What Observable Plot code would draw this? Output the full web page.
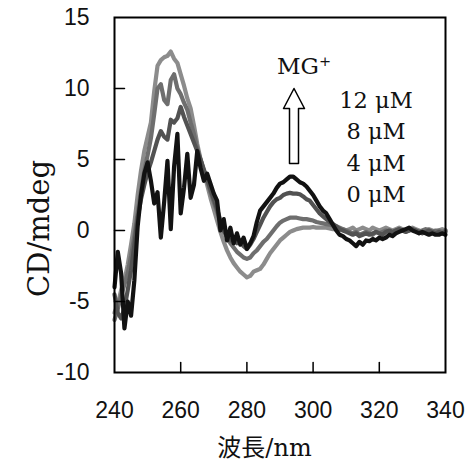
<!DOCTYPE html>
<html>
<head>
<meta charset="utf-8">
<script src="https://cdn.jsdelivr.net/npm/d3@7"></script>
<script src="https://cdn.jsdelivr.net/npm/@observablehq/plot@0.6"></script>
<style>
  html, body { margin: 0; padding: 0; background: #fff; }
  #chart svg { display: block; }
</style>
</head>
<body>
<div id="chart"></div>
<script>
// ---- data ----
const wavelength = d3.range(240, 341, 1);

const seriesNames = ["0 μM", "4 μM", "8 μM", "12 μM"];

const cd0 = [
  -5.8, -5.2, -4.2, -3.5, -2.4, -1.0, 0.5, 2.5, 4.2, 5.6,
  6.6, 7.6, 9.8, 11.6, 12.0, 12.2, 12.3, 12.6, 12.1, 11.8,
  11.0, 10.2, 9.3, 8.6, 7.4, 6.1, 5.0, 4.1, 3.2, 2.3,
  1.5, 0.7, -0.1, -0.8, -1.4, -1.9, -2.3, -2.6, -2.9, -3.1,
  -3.3, -3.2, -2.9, -2.8, -2.7, -2.4, -2.0, -1.6, -1.3, -1.0,
  -0.7, -0.5, -0.3, -0.1, 0.0, 0.1, 0.15, 0.2, 0.2, 0.2,
  0.25, 0.2, 0.2, 0.2, 0.2, 0.15, 0.1, 0.1, 0.05, 0.1,
  0.0, 0.1, 0.2, 0.0, 0.1, 0.2, 0.1, 0.0, 0.2, 0.1,
  0.0, 0.1, 0.2, 0.1, 0.0, 0.1, 0.2, 0.1, 0.0, 0.1,
  0.2, 0.1, 0.0, -0.1, 0.0, 0.1, 0.0, -0.1, 0.0, 0.1, 0.0
];

const cd4 = [
  -6.3, -5.5, -4.6, -3.8, -3.0, -1.8, -0.4, 1.2, 2.8, 4.2,
  5.3, 6.5, 8.2, 10.0, 10.3, 9.2, 8.9, 10.6, 11.0, 10.0,
  9.6, 9.0, 8.5, 7.6, 6.8, 5.8, 5.0, 4.2, 3.5, 2.7,
  2.0, 1.3, 0.6, 0.0, -0.5, -0.9, -1.2, -1.5, -1.7, -1.9,
  -2.0, -1.9, -1.6, -1.4, -1.1, -0.8, -0.6, -0.3, 0.0, 0.3,
  0.55, 0.7, 0.8, 0.9, 0.9, 0.9, 0.85, 0.8, 0.8, 0.75,
  0.7, 0.6, 0.55, 0.5, 0.45, 0.4, 0.35, 0.3, 0.2, 0.1,
  0.0, -0.1, -0.2, -0.1, -0.3, -0.2, -0.1, -0.2, -0.3, -0.1,
  -0.2, -0.1, 0.0, -0.1, -0.2, 0.0, 0.1, 0.0, -0.1, 0.0,
  0.1, 0.0, -0.1, 0.0, 0.1, 0.0, -0.1, 0.0, 0.0, -0.1, 0.0
];

const cd8 = [
  -4.5, -5.8, -6.2, -5.5, -4.2, -2.8, -1.0, 0.9, 2.2, 3.2,
  4.1, 4.8, 5.6, 6.4, 7.0, 6.6, 6.4, 7.8, 7.6, 7.9,
  8.7, 8.0, 7.4, 6.8, 6.2, 5.6, 5.0, 4.3, 3.6, 2.9,
  2.2, 1.5, 0.7, 0.0, -0.4, -0.7, -0.5, -0.9, -0.7, -1.1,
  -1.3, -1.0, -0.6, -0.1, 0.4, 0.9, 1.3, 1.7, 2.0, 2.2,
  2.3, 2.5, 2.6, 2.65, 2.6, 2.6, 2.55, 2.4, 2.2, 2.1,
  1.8, 1.5, 1.2, 1.0, 0.8, 0.6, 0.45, 0.3, 0.1, 0.0,
  -0.1, -0.2, -0.3, -0.2, -0.4, -0.3, -0.2, -0.3, -0.2, -0.1,
  -0.2, -0.3, -0.1, 0.0, -0.1, 0.0, 0.1, 0.0, -0.1, 0.0,
  0.1, 0.0, -0.1, -0.2, -0.1, 0.0, -0.1, -0.2, -0.1, -0.2, -0.1
];

const cd12 = [
  -4.0, -1.5, -3.0, -6.9, -5.0, -6.0, -3.5, 0.3, 2.5, 4.0,
  4.8, 3.5, 1.9, 2.7, -0.5, 2.0, 4.9, 0.1, 4.5, 6.8,
  1.2, 3.0, 5.4, 2.3, 3.2, 5.6, 4.4, 3.5, 4.0, 3.3,
  2.6, 2.1, 0.0, 0.8, -0.7, 0.2, -0.9, -0.2, -1.0, -0.5,
  -1.3, -0.9, -0.4, 0.6, 1.4, 1.7, 2.0, 2.3, 2.6, 3.0,
  3.3, 3.4, 3.6, 3.8, 3.8, 3.6, 3.4, 3.3, 3.1, 2.8,
  2.5, 2.1, 1.7, 1.4, 1.2, 0.8, 0.4, 0.0, -0.3, -0.4,
  -0.6, -0.7, -0.9, -1.1, -0.8, -1.0, -0.7, -0.75, -0.6, -0.7,
  -0.5, -0.6, -0.5, -0.3, -0.4, -0.2, -0.1, 0.0, 0.1, 0.2,
  0.0, -0.1, -0.2, -0.1, -0.2, -0.3, -0.2, -0.3, -0.3, -0.2, -0.3
];

const seriesColors = ["#8c8c8c", "#6e6e6e", "#525252", "#121212"];

const xTicks = [240, 260, 280, 300, 320, 340];
const yTicks = [-10, -5, 0, 5, 10, 15];

const legendTitle = "MG⁺";
const legendLabels = ["12 μM", "8 μM", "4 μM", "0 μM"];
const xTitle = "波長/nm";
const yTitle = "CD/mdeg";

// ---- build table ----
const allSeries = [cd0, cd4, cd8, cd12];
const rows = [];
allSeries.forEach((vals, s) => {
  vals.forEach((v, i) => rows.push({wl: wavelength[i], cd: v, series: seriesNames[s]}));
});

const W = 471, H = 467;
const mL = 114, mR = 26, mT = 17, mB = 95;

const tickShape = {draw(ctx, l) { ctx.moveTo(0, 0); ctx.lineTo(0, -l); }};
const blockArrow = {
  draw(ctx, l) {
    const sw = 4.5, hw = 10.5, hl = 20;
    ctx.moveTo(-sw, 0);
    ctx.lineTo(-sw, -(l - hl));
    ctx.lineTo(-hw, -(l - hl));
    ctx.lineTo(0, -l);
    ctx.lineTo(hw, -(l - hl));
    ctx.lineTo(sw, -(l - hl));
    ctx.lineTo(sw, 0);
    ctx.closePath();
  }
};

const serif = "'DejaVu Serif', 'Noto Sans CJK JP', serif";
const sans = "'Liberation Sans', Arial, sans-serif";

const marks = [
  // lines
  ...seriesNames.map((name, s) =>
    Plot.line(rows.filter(r => r.series === name), {
      x: "wl", y: "cd", stroke: seriesColors[s], strokeWidth: 4.2,
      strokeLinejoin: "round", strokeLinecap: "round", curve: "linear"
    })
  ),
  // frame
  Plot.frame({stroke: "#000", strokeWidth: 2}),
  // inward ticks
  Plot.vectorX(xTicks.slice(1, -1), {x: d => d, frameAnchor: "bottom", length: 10, rotate: 0, anchor: "start", shape: tickShape, stroke: "#000", strokeWidth: 1.5}),
  Plot.vectorY(yTicks.slice(1, -1), {y: d => d, frameAnchor: "left", length: 10, rotate: 90, anchor: "start", shape: tickShape, stroke: "#000", strokeWidth: 1.5}),
  // tick labels
  Plot.axisX({ticks: xTicks, tickSize: 0, tickPadding: 29, tickFormat: d => String(d), fontSize: 23, fontFamily: sans, fill: "#111", label: null}),
  Plot.axisY({ticks: yTicks, tickSize: 0, tickPadding: 25, tickFormat: d => String(d), fontSize: 23, fontFamily: sans, fill: "#111", label: null}),
  // axis titles
  Plot.text([yTitle], {frameAnchor: "top-left", dx: 28 - mL, dy: 228 - mT, rotate: -90, text: d => d, fontFamily: serif, fontSize: 29, fill: "#111", textAnchor: "middle"}),
  Plot.text([xTitle], {frameAnchor: "bottom-left", dx: 264 - mL, dy: 455 - (H - mB), text: d => d, fontFamily: serif, fontSize: 24, fill: "#111", lineAnchor: "bottom", textAnchor: "middle"}),
  // annotation
  Plot.text([legendTitle], {frameAnchor: "top-left", dx: 303.5 - mL, dy: 73 - mT, text: d => d, fontFamily: serif, fontSize: 23, fill: "#111", lineAnchor: "bottom", textAnchor: "middle"}),
  Plot.vector([0], {frameAnchor: "top-left", dx: 293.5 - mL, dy: 163 - mT, length: 75, rotate: 0, anchor: "start", shape: blockArrow, stroke: "#000", strokeWidth: 1.5, fill: "#fff"}),
  ...legendLabels.map((t, i) =>
    Plot.text([t], {frameAnchor: "top-left", dx: 375.5 - mL, dy: 107 - mT + i * 31.6, text: d => d, fontFamily: serif, fontSize: 22.5, fill: "#111", lineAnchor: "bottom", textAnchor: "middle"})
  )
];

const chart = Plot.plot({
  width: W, height: H,
  marginLeft: mL, marginRight: mR, marginTop: mT, marginBottom: mB,
  x: {domain: [240, 340]},
  y: {domain: [-10, 15]},
  style: {background: "#fff", overflow: "visible"},
  marks
});
document.getElementById("chart").appendChild(chart);
</script>
</body>
</html>
